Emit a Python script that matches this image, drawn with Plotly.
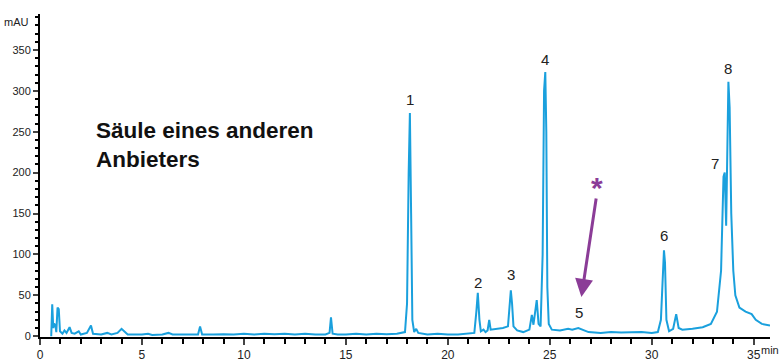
import plotly.graph_objects as go

# Chromatogram trace (time in min, signal in mAU)
time_min = [0.55, 0.60, 0.65, 0.70, 0.75, 0.80, 0.86, 0.92, 0.98, 1.1, 1.2, 1.3, 1.45, 1.55, 1.7, 1.9, 2.0, 2.3, 2.5, 2.6,
            3.0, 3.3, 3.5, 3.8, 4.0, 4.15, 4.3, 4.6, 5.0, 5.3, 5.5, 6.0, 6.3, 6.5, 7.0, 7.5, 7.75, 7.85, 7.95, 8.5,
            9.0, 9.5, 10.0, 10.5, 11.0, 11.5, 12.0, 12.5, 13.0, 13.5, 14.0, 14.2, 14.27, 14.35, 14.6, 15.0, 15.5, 16.0, 16.5, 17.0,
            17.5, 17.9, 18.0, 18.08, 18.14, 18.2, 18.26, 18.35, 18.45, 18.55, 18.8, 19.0, 19.5, 20.0, 20.5, 21.0, 21.3, 21.4, 21.47, 21.55,
            21.62, 21.75, 21.85, 21.95, 22.03, 22.1, 22.4, 22.7, 22.95, 23.02, 23.09, 23.15, 23.22, 23.4, 23.7, 24.0, 24.12, 24.2, 24.3, 24.36,
            24.45, 24.55, 24.65, 24.72, 24.78, 24.83, 24.88, 24.95, 25.1, 25.5, 25.9, 26.1, 26.4, 26.6, 26.9, 27.5, 28.0, 28.5, 29.0, 29.5,
            30.0, 30.3, 30.45, 30.55, 30.6, 30.65, 30.72, 30.85, 31.05, 31.2, 31.32, 31.5, 32.0, 32.5, 32.9, 33.2, 33.4, 33.52, 33.58, 33.65,
            33.72, 33.76, 33.82, 33.9, 34.0, 34.1, 34.3, 34.6, 34.9, 35.1, 35.4, 35.8]
signal_mau = [0, 39, 10, 15, 14, 5, 35, 33, 6, 3, 7, 4, 11, 4, 3, 6, 2, 4, 13, 3,
              2, 4, 2, 4, 9, 6, 2, 2, 2, 3, 1.5, 2, 4, 2, 2, 2, 2, 12, 2, 2,
              2.5, 2, 3, 2, 3, 2.5, 3, 2, 3, 2, 2, 4, 23, 3, 2, 2, 3, 2, 3, 2.5,
              3, 5, 40, 200, 273, 150, 20, 5, 9, 4, 3, 2, 3, 2, 2, 3, 4, 30, 53, 20,
              6, 8, 5, 7, 20, 8, 9, 10, 12, 40, 56, 40, 12, 7, 5, 8, 26, 14, 35, 44,
              15, 12, 100, 300, 323, 250, 60, 15, 8, 7, 9, 8, 10, 8, 5, 4, 5, 4.5, 5, 5,
              4, 5, 20, 90, 105, 90, 20, 6, 9, 27, 10, 8, 9, 11, 15, 30, 80, 195, 200, 135,
              290, 311, 280, 150, 80, 50, 35, 30, 27, 20, 15, 13]

peak_labels = ["1", "2", "3", "4", "5", "6", "7", "8"]
peak_label_x = [18.14, 21.47, 23.09, 24.78, 26.45, 30.6, 33.1, 33.76]
peak_label_y = [277, 53, 63, 326, 16, 110, 198, 315]

x_ticks = [0, 5, 10, 15, 20, 25, 30, 35]
y_ticks = [0, 50, 100, 150, 200, 250, 300, 350]

font_family = "Liberation Sans, Arial, sans-serif"
blue = "#1aa0dd"
purple = "#8b3c97"

fig = go.Figure()
fig.add_trace(go.Scatter(x=time_min, y=signal_mau, mode="lines",
                         line=dict(color=blue, width=2), showlegend=False, hoverinfo="skip"))

for lab, lx, ly in zip(peak_labels, peak_label_x, peak_label_y):
    fig.add_annotation(x=lx, y=ly, text=lab, showarrow=False, yanchor="bottom",
                       font=dict(family=font_family, size=15, color="#222222"))

fig.add_annotation(xref="paper", yref="paper", x=0.074, y=0.594, xanchor="left", yanchor="middle",
                   text="<b>Säule eines anderen<br>Anbieters</b>", showarrow=False, align="left",
                   font=dict(family=font_family, size=22.5, color="#111111"))

# purple asterisk and arrow
fig.add_annotation(x=26.55, y=48, ax=15, ay=-100, text="", showarrow=True,
                   arrowhead=2, arrowsize=1.2, arrowwidth=3, arrowcolor=purple)
fig.add_annotation(x=27.3, y=182, text="<b>*</b>", showarrow=False,
                   font=dict(family=font_family, size=30, color=purple))

fig.add_annotation(xref="paper", yref="paper", x=-0.012, y=1.0, xanchor="right", yanchor="top",
                   text="mAU", showarrow=False, font=dict(family=font_family, size=11, color="#222222"))
fig.add_annotation(xref="paper", yref="paper", x=(781 - 40) / 730, y=0, xanchor="right", yanchor="top", yshift=-5,
                   text="min", showarrow=False, font=dict(family=font_family, size=11, color="#222222"))

fig.update_layout(
    width=781, height=362,
    margin=dict(l=40, r=11, t=14, b=25),
    paper_bgcolor="white", plot_bgcolor="white",
    font=dict(family=font_family, size=12, color="#222222"),
    xaxis=dict(range=[0, 35.8], tickvals=x_ticks, ticks="outside", ticklen=6, tickwidth=1.5,
               showline=True, linecolor="black", linewidth=2, showgrid=False, zeroline=False,
               automargin=False,
               minor=dict(dtick=1, ticks="outside", ticklen=5, tickcolor="black"),
               tickfont=dict(size=12)),
    yaxis=dict(range=[-1, 394], tickvals=y_ticks, ticks="outside", ticklen=5, tickwidth=1.5,
               showline=True, linecolor="black", linewidth=2, showgrid=False, zeroline=False,
               automargin=False,
               minor=dict(dtick=10, ticks="outside", ticklen=3, tickcolor="black"),
               tickfont=dict(size=11)),
)

fig.write_html("out.html", config={"displayModeBar": False},
               post_script="document.body.style.margin='0';document.body.style.overflow='hidden';")
